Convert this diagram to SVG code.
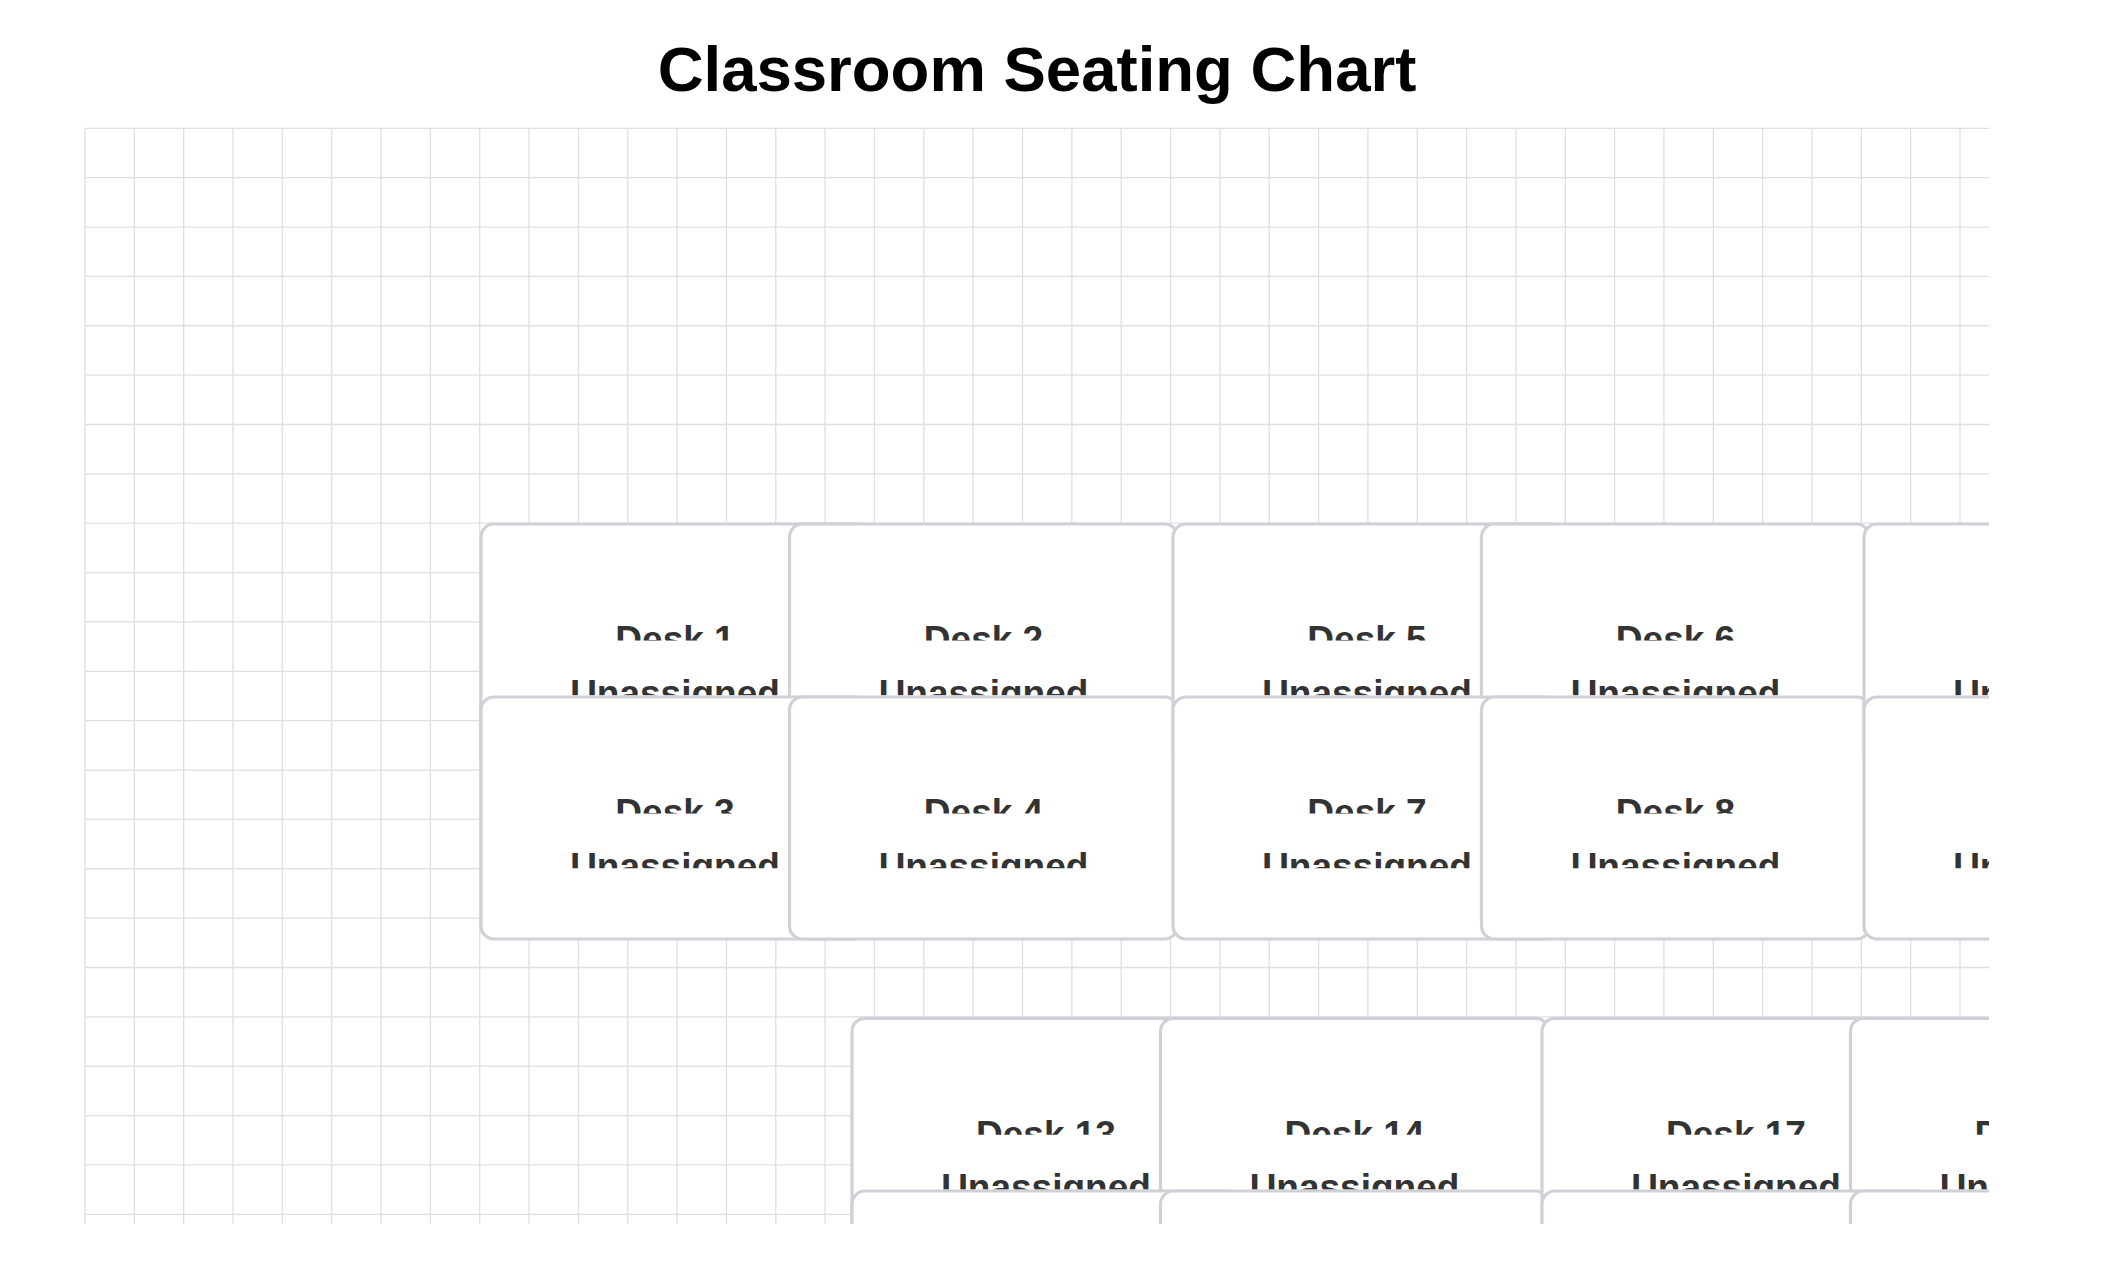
<svg xmlns="http://www.w3.org/2000/svg" width="2120" height="1270" viewBox="0 0 2120 1270">
<style>
.grid{stroke:#dfdfe3;stroke-width:1.3;fill:none}
.desk rect{fill:#ffffff;stroke:#d0d0d7;stroke-width:3.2}
.desk text{font-family:"Liberation Sans",Arial,sans-serif;font-weight:bold;font-size:37px;fill:#333333;text-anchor:middle}
.title{font-family:"Liberation Sans",Arial,sans-serif;font-weight:bold;font-size:63.5px;fill:#000000;text-anchor:middle}
</style>
<defs>
<clipPath id="area"><rect x="85" y="127" width="1904" height="1097"/></clipPath>
<clipPath id="l1"><rect x="-10" y="0" width="410" height="116.5"/></clipPath>
<clipPath id="l2"><rect x="-10" y="0" width="410" height="171.3"/></clipPath>
</defs>
<rect x="0" y="0" width="2120" height="1270" fill="#ffffff"/>
<text class="title" x="1037" y="91">Classroom Seating Chart</text>
<g id="grid">
<path class="grid" d="M85 128.3V1224M134.34 128.3V1224M183.68 128.3V1224M233.03 128.3V1224M282.37 128.3V1224M331.71 128.3V1224M381.05 128.3V1224M430.39 128.3V1224M479.74 128.3V1224M529.08 128.3V1224M578.42 128.3V1224M627.76 128.3V1224M677.1 128.3V1224M726.45 128.3V1224M775.79 128.3V1224M825.13 128.3V1224M874.47 128.3V1224M923.81 128.3V1224M973.16 128.3V1224M1022.5 128.3V1224M1071.84 128.3V1224M1121.18 128.3V1224M1170.52 128.3V1224M1219.87 128.3V1224M1269.21 128.3V1224M1318.55 128.3V1224M1367.89 128.3V1224M1417.23 128.3V1224M1466.58 128.3V1224M1515.92 128.3V1224M1565.26 128.3V1224M1614.6 128.3V1224M1663.94 128.3V1224M1713.29 128.3V1224M1762.63 128.3V1224M1811.97 128.3V1224M1861.31 128.3V1224M1910.65 128.3V1224M1960 128.3V1224"/>
<path class="grid" d="M85 128.3H1989M85 177.66H1989M85 227.03H1989M85 276.39H1989M85 325.76H1989M85 375.12H1989M85 424.48H1989M85 473.85H1989M85 523.21H1989M85 572.58H1989M85 621.94H1989M85 671.3H1989M85 720.67H1989M85 770.03H1989M85 819.4H1989M85 868.76H1989M85 918.12H1989M85 967.49H1989M85 1016.85H1989M85 1066.22H1989M85 1115.58H1989M85 1164.94H1989M85 1214.31H1989"/>
</g>
<g id="connectors"></g>
<g id="desks" clip-path="url(#area)">
<g id="desk-1" class="desk" transform="translate(481,524)"><rect width="388" height="242" rx="13"/><text x="194" y="128.4" clip-path="url(#l1)">Desk 1</text><text x="194" y="181.5" clip-path="url(#l2)">Unassigned</text></g>
<g id="desk-2" class="desk" transform="translate(789.5,524)"><rect width="388" height="242" rx="13"/><text x="194" y="128.4" clip-path="url(#l1)">Desk 2</text><text x="194" y="181.5" clip-path="url(#l2)">Unassigned</text></g>
<g id="desk-3" class="desk" transform="translate(481,697)"><rect width="388" height="242" rx="13"/><text x="194" y="128.4" clip-path="url(#l1)">Desk 3</text><text x="194" y="181.5" clip-path="url(#l2)">Unassigned</text></g>
<g id="desk-4" class="desk" transform="translate(789.5,697)"><rect width="388" height="242" rx="13"/><text x="194" y="128.4" clip-path="url(#l1)">Desk 4</text><text x="194" y="181.5" clip-path="url(#l2)">Unassigned</text></g>
<g id="desk-5" class="desk" transform="translate(1173,524)"><rect width="388" height="242" rx="13"/><text x="194" y="128.4" clip-path="url(#l1)">Desk 5</text><text x="194" y="181.5" clip-path="url(#l2)">Unassigned</text></g>
<g id="desk-6" class="desk" transform="translate(1481.5,524)"><rect width="388" height="242" rx="13"/><text x="194" y="128.4" clip-path="url(#l1)">Desk 6</text><text x="194" y="181.5" clip-path="url(#l2)">Unassigned</text></g>
<g id="desk-7" class="desk" transform="translate(1173,697)"><rect width="388" height="242" rx="13"/><text x="194" y="128.4" clip-path="url(#l1)">Desk 7</text><text x="194" y="181.5" clip-path="url(#l2)">Unassigned</text></g>
<g id="desk-8" class="desk" transform="translate(1481.5,697)"><rect width="388" height="242" rx="13"/><text x="194" y="128.4" clip-path="url(#l1)">Desk 8</text><text x="194" y="181.5" clip-path="url(#l2)">Unassigned</text></g>
<g id="desk-9" class="desk" transform="translate(1864,524)"><rect width="388" height="242" rx="13"/><text x="194" y="181.5" clip-path="url(#l2)">Unassigned</text></g>
<g id="desk-11" class="desk" transform="translate(1864,697)"><rect width="388" height="242" rx="13"/><text x="194" y="181.5" clip-path="url(#l2)">Unassigned</text></g>
<g id="desk-13" class="desk" transform="translate(852,1018.3)"><rect width="388" height="242" rx="13"/><text x="194" y="128.4" clip-path="url(#l1)">Desk 13</text><text x="194" y="181.5" clip-path="url(#l2)">Unassigned</text></g>
<g id="desk-14" class="desk" transform="translate(1160.5,1018.3)"><rect width="388" height="242" rx="13"/><text x="194" y="128.4" clip-path="url(#l1)">Desk 14</text><text x="194" y="181.5" clip-path="url(#l2)">Unassigned</text></g>
<g id="desk-15" class="desk" transform="translate(852,1191)"><rect width="388" height="242" rx="13"/></g>
<g id="desk-16" class="desk" transform="translate(1160.5,1191)"><rect width="388" height="242" rx="13"/></g>
<g id="desk-17" class="desk" transform="translate(1542,1018.3)"><rect width="388" height="242" rx="13"/><text x="194" y="128.4" clip-path="url(#l1)">Desk 17</text><text x="194" y="181.5" clip-path="url(#l2)">Unassigned</text></g>
<g id="desk-18" class="desk" transform="translate(1850.5,1018.3)"><rect width="388" height="242" rx="13"/><text x="194" y="128.4" clip-path="url(#l1)">Desk 18</text><text x="194" y="181.5" clip-path="url(#l2)">Unassigned</text></g>
<g id="desk-19" class="desk" transform="translate(1542,1191)"><rect width="388" height="242" rx="13"/></g>
<g id="desk-20" class="desk" transform="translate(1850.5,1191)"><rect width="388" height="242" rx="13"/></g>
</g>
</svg>
